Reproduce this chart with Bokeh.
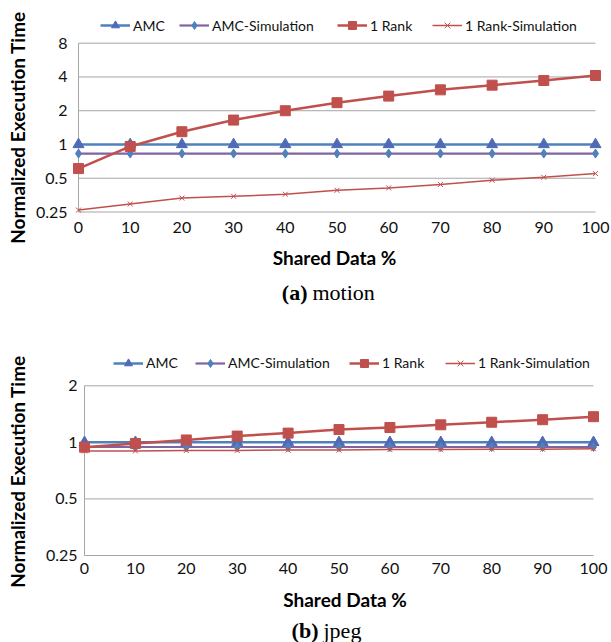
import math
from bokeh.plotting import figure
from bokeh.models import Range1d, Label, Legend, LegendItem
from bokeh.layouts import column
from bokeh.embed import file_html
from bokeh.resources import INLINE
from bokeh.core.properties import value

# ---------------- data ----------------
shared = [0, 10, 20, 30, 40, 50, 60, 70, 80, 90, 100]
xtick_labels = ["0", "10", "20", "30", "40", "50", "60", "70", "80", "90", "100"]
series_names = ["AMC", "AMC-Simulation", "1 Rank", "1 Rank-Simulation"]

motion_amc = [1.0, 1.0, 1.0, 1.0, 1.0, 1.0, 1.0, 1.0, 1.0, 1.0, 1.0]
motion_amc_sim = [0.83, 0.83, 0.83, 0.83, 0.83, 0.83, 0.83, 0.83, 0.83, 0.83, 0.83]
motion_rank = [0.61, 0.96, 1.30, 1.65, 2.0, 2.36, 2.70, 3.07, 3.38, 3.72, 4.12]
motion_rank_sim = [0.26, 0.295, 0.333, 0.345, 0.36, 0.39, 0.41, 0.44, 0.48, 0.51, 0.55]
motion_yticks = [0.25, 0.5, 1, 2, 4, 8]
motion_ytick_labels = ["0.25", "0.5", "1", "2", "4", "8"]

jpeg_amc = [1.0, 1.0, 1.0, 1.0, 1.0, 1.0, 1.0, 1.0, 1.0, 1.0, 1.0]
jpeg_amc_sim = [0.945, 0.945, 0.945, 0.945, 0.945, 0.945, 0.945, 0.945, 0.945, 0.945, 0.945]
jpeg_rank = [0.943, 0.987, 1.03, 1.08, 1.12, 1.17, 1.20, 1.24, 1.28, 1.32, 1.37]
jpeg_rank_sim = [0.90, 0.90, 0.905, 0.905, 0.91, 0.91, 0.915, 0.915, 0.92, 0.92, 0.925]
jpeg_yticks = [0.25, 0.5, 1, 2]
jpeg_ytick_labels = ["0.25", "0.5", "1", "2"]

FONT = "Lato"
GRID = "#A6A6A6"
BLUE = "#4F81BD"
TRI = "#4F6BB5"
PURPLE = "#8064A2"
RED = "#C0504D"
W = 611


def make_chart(series, yticks, ytick_labels, height,
               x0_px, x100_px, ytop_px, ybot_px,
               ylab_gap, xlab_off, legend_xs, legend_cy,
               ylabel_xy, xlabel_xy, cap_bold, cap_text, cap_xy):
    # pixel geometry -> data ranges (frame covers the whole canvas)
    ppu = (x100_px - x0_px) / (shared[-1] - shared[0])
    x_start = shared[0] - x0_px / ppu
    x_end = shared[0] + (W - x0_px) / ppu
    oct_px = (ybot_px - ytop_px) / math.log2(yticks[-1] / yticks[0])
    y_end = yticks[-1] * 2 ** (ytop_px / oct_px)
    y_start = yticks[0] * 2 ** (-(height - ybot_px) / oct_px)

    p = figure(width=W, height=height, output_backend="svg", toolbar_location=None,
               y_axis_type="log", x_axis_location=None, y_axis_location=None,
               x_range=Range1d(x_start, x_end), y_range=Range1d(y_start, y_end),
               min_border=0)
    p.outline_line_color = None
    p.background_fill_color = "white"
    p.border_fill_color = "white"
    p.xgrid.visible = False
    p.ygrid.visible = False

    # gridlines (x=0..100) and left axis line
    n = len(yticks)
    p.segment(x0=[shared[0]] * n, x1=[shared[-1]] * n, y0=yticks, y1=yticks,
              line_color=GRID, line_width=1)
    p.segment(x0=[shared[0]], x1=[shared[0]], y0=[yticks[0]], y1=[yticks[-1]],
              line_color=GRID, line_width=1)

    # tick labels
    p.text(x=[shared[0]] * n, y=yticks, text=ytick_labels, x_offset=-ylab_gap,
           text_align="right", text_baseline="middle",
           text_font=value(FONT), text_font_size="16px", text_color="#111111")
    p.text(x=shared, y=[yticks[0]] * len(shared), text=xtick_labels, y_offset=xlab_off,
           text_align="center", text_baseline="middle",
           text_font=value(FONT), text_font_size="16px", text_color="#111111")

    amc, amc_sim, rank, rank_sim = series
    l1 = p.line(shared, amc, line_color=BLUE, line_width=2.5)
    m1 = p.scatter(shared, amc, marker="triangle", size=11, fill_color=TRI, line_color=TRI)
    l2 = p.line(shared, amc_sim, line_color=PURPLE, line_width=2.2)
    m2 = p.scatter(shared, amc_sim, marker="diamond", size=9, fill_color=BLUE, line_color=BLUE)
    l3 = p.line(shared, rank, line_color=RED, line_width=2.5)
    m3 = p.scatter(shared, rank, marker="square", size=10, fill_color=RED, line_color=RED)
    l4 = p.line(shared, rank_sim, line_color=RED, line_width=1.5)
    m4 = p.scatter(shared, rank_sim, marker="x", size=7, line_color=RED, line_width=1)
    rends = [[l1, m1], [l2, m2], [l3, m3], [l4, m4]]

    for name, rr, lx in zip(series_names, rends, legend_xs):
        leg = Legend(items=[LegendItem(label=name, renderers=rr)],
                     location=(lx, height - (legend_cy + 10)),
                     orientation="horizontal", padding=0, margin=0, spacing=0,
                     glyph_width=30, glyph_height=20, label_height=20,
                     label_standoff=3, border_line_color=None,
                     background_fill_alpha=0,
                     label_text_font=FONT, label_text_font_size="14px",
                     label_text_color="#111111")
        p.add_layout(leg)

    def fy(Y):
        return height - Y

    p.add_layout(Label(x=ylabel_xy[0], y=fy(ylabel_xy[1]), x_units="screen", y_units="screen",
                       text="Normalized Execution Time", angle=math.pi / 2,
                       text_align="center", text_baseline="middle",
                       text_font=FONT, text_font_style="bold", text_font_size="19px",
                       text_color="#000000"))
    p.add_layout(Label(x=xlabel_xy[0], y=fy(xlabel_xy[1]), x_units="screen", y_units="screen",
                       text="Shared Data %", text_align="center", text_baseline="middle",
                       text_font=FONT, text_font_style="bold", text_font_size="19px",
                       text_color="#000000"))
    p.add_layout(Label(x=cap_xy[0], y=fy(cap_xy[2]), x_units="screen", y_units="screen",
                       text=cap_bold, text_align="right", text_baseline="alphabetic",
                       text_font="Liberation Serif", text_font_style="bold", text_font_size="22px",
                       text_color="#000000"))
    p.add_layout(Label(x=cap_xy[1], y=fy(cap_xy[2]), x_units="screen", y_units="screen",
                       text=cap_text, text_align="left", text_baseline="alphabetic",
                       text_font="Liberation Serif", text_font_size="22px",
                       text_color="#000000"))
    return p


top = make_chart([motion_amc, motion_amc_sim, motion_rank, motion_rank_sim],
                 motion_yticks, motion_ytick_labels, 305,
                 x0_px=78, x100_px=595, ytop_px=42.7, ybot_px=211.5,
                 ylab_gap=11, xlab_off=15.5,
                 legend_xs=[100, 179, 337, 432], legend_cy=25,
                 ylabel_xy=(17, 127), xlabel_xy=(334, 257),
                 cap_bold="(a)", cap_text="motion", cap_xy=(307, 312, 292))

bot = make_chart([jpeg_amc, jpeg_amc_sim, jpeg_rank, jpeg_rank_sim],
                 jpeg_yticks, jpeg_ytick_labels, 337,
                 x0_px=84, x100_px=593, ytop_px=385.3 - 305, ybot_px=555 - 305,
                 ylab_gap=7, xlab_off=13.3,
                 legend_xs=[113, 195, 349, 445], legend_cy=362.7 - 305,
                 ylabel_xy=(17, 471 - 305), xlabel_xy=(344.5, 599.3 - 305),
                 cap_bold="(b)", cap_text="jpeg", cap_xy=(318, 323, 630 - 305))

layout = column(top, bot, spacing=0)
open("out.html", "w").write(file_html(layout, INLINE))
